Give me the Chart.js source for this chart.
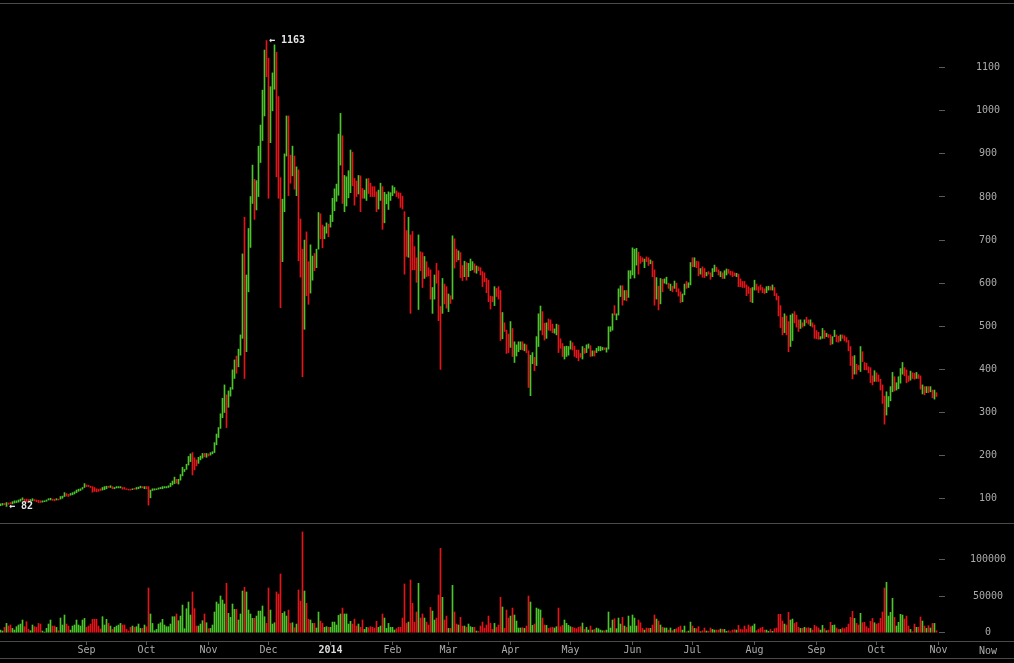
<!DOCTYPE html>
<html><head><meta charset="utf-8">
<script src="https://cdn.jsdelivr.net/npm/chart.js@4.4.1/dist/chart.umd.min.js"></script>
<style>
html,body{margin:0;padding:0;background:#000;width:1014px;height:663px;overflow:hidden;}
.hl{position:absolute;left:0;width:1014px;height:1px;background:#4a4a4a;}
canvas{position:absolute;left:0;}
#now{position:absolute;left:963px;width:50px;top:645px;height:10px;line-height:10px;text-align:center;font:10px "DejaVu Sans Mono",monospace;color:#aaa;}
</style></head>
<body>
<div class="hl" style="top:3px"></div>
<div class="hl" style="top:523px"></div>
<div class="hl" style="top:641px"></div>
<div class="hl" style="top:658px"></div>
<canvas id="pc" width="1014" height="523" style="top:0"></canvas>
<canvas id="vc" width="1014" height="140" style="top:523px"></canvas>
<div id="now">Now</div>
<script>
// Day index 0 = 2013-09-01; first bar = day -43 (2013-07-20)
const firstDay = -43;
const high = [88,89,89,91,90,91,93,95,95,97,99,102,99,99,98,98,100,98,97,96,95,95,95,97,100,101,99,99,100,99,105,106,114,112,110,112,114,116,120,122,123,126,135,
132,131,129,128,126,123,122,123,126,128,129,129,130,128,126,128,128,128,126,126,123,122,122,123,124,126,127,129,128,128,128,128,120,123,123,123,125,126,128,128,128,130,136,141,150,145,145,156,173,168,180,198,204,207,195,190,196,199,205,205,205,204,207,209,230,250,265,297,333,364,341,350,
358,399,422,431,447,480,668,753,619,727,801,874,841,838,918,967,1048,1141,1163,1122,1056,1088,1153,1136,1033,845,795,900,988,988,897,918,895,870,863,749,679,700,719,650,689,663,669,679,764,761,735,731,740,737,
758,797,819,830,946,994,942,850,847,861,909,904,843,837,850,849,820,816,842,843,832,824,824,812,816,832,824,811,806,812,810,826,822,814,810,809,802,766,722,753,712,720,685,659,712,673,671,662,650,636,631,590,619,646,629,546,611,598,592,575,571,710,703,679,675,671,641,651,648,646,
656,650,645,640,638,636,627,624,611,607,570,569,592,588,592,583,532,508,491,482,511,495,464,457,464,464,464,459,457,443,433,439,428,476,529,547,534,507,508,517,515,505,494,505,503,471,460,453,454,453,
466,462,454,445,445,437,453,449,457,459,455,443,443,449,453,453,451,450,450,499,499,529,548,529,587,594,594,583,583,629,629,682,679,681,672,662,659,656,661,659,654,651,631,613,593,611,609,610,614,600,
598,593,605,600,587,580,575,598,604,601,648,659,659,651,650,634,638,
634,625,627,624,634,642,637,631,627,624,629,633,632,628,627,624,623,621,610,604,604,596,592,588,590,607,598,592,596,590,587,592,593,592,596,590,576,570,548,521,
529,524,511,526,529,534,526,515,515,508,515,521,515,515,508,503,490,486,476,495,490,484,481,480,476,491,480,477,480,480,478,474,467,453,430,432,412,409,453,441,
416,414,406,404,385,397,392,387,377,364,338,348,337,360,393,383,369,383,402,416,404,399,385,396,392,391,393,388,385,364,360,360,360,360,352,352,346];
const low = [84,85,86,82,87,88,88,90,91,92,94,97,94,93,95,95,95,95,93,91,91,92,93,94,97,97,96,95,97,97,99,101,105,106,105,108,109,111,114,117,119,122,126,
128,128,126,115,117,116,117,119,120,121,123,126,126,123,123,125,125,125,122,122,121,120,120,121,122,122,123,125,125,123,123,85,102,119,120,121,122,123,123,125,125,126,128,132,135,136,134,143,153,163,168,178,186,155,167,176,182,190,194,197,196,199,201,204,207,225,242,263,288,300,265,312,
338,354,379,391,406,433,472,379,441,580,683,785,748,770,801,880,931,988,1079,797,926,1000,1050,847,797,543,650,766,895,803,832,849,818,803,652,614,383,493,571,551,577,607,629,636,679,703,682,703,716,708,
730,743,768,790,804,874,785,766,779,798,810,826,781,801,807,766,797,797,792,808,801,801,801,766,772,792,725,740,784,771,792,803,809,801,797,776,772,621,662,660,530,631,631,602,539,629,590,611,615,617,563,530,563,600,513,400,530,552,542,534,553,563,635,650,654,613,606,615,607,615,
629,631,625,623,629,619,592,603,578,557,540,557,548,569,563,467,471,488,437,439,451,430,416,431,441,446,445,443,439,358,339,413,397,409,453,491,480,468,472,491,490,485,484,480,439,449,430,424,430,433,
447,445,430,427,420,428,424,437,439,449,430,431,431,439,443,443,445,446,440,447,488,491,526,515,526,569,549,561,559,567,611,619,612,642,621,646,650,636,650,641,645,615,549,563,538,552,580,600,598,588,
583,580,588,580,570,555,557,573,588,590,596,638,638,636,617,621,614,
613,617,621,609,615,627,627,619,615,611,611,619,623,619,615,617,615,592,592,590,590,571,576,557,555,584,584,578,584,578,576,578,584,584,584,571,561,524,497,480,
485,480,441,453,467,508,498,488,495,498,501,508,505,501,498,472,471,470,470,472,472,476,474,457,459,476,464,463,466,472,466,463,443,409,378,389,389,399,395,418,
399,399,392,369,364,372,372,372,352,321,273,294,313,327,348,350,352,355,368,389,385,369,372,375,379,377,379,379,354,343,341,346,346,348,334,331,337];
// 1 = close above open (green), 0 = close below open (red)
const dir = [1,1,0,1,0,0,1,1,1,1,1,1,0,0,0,1,1,0,0,0,0,1,1,1,1,1,0,0,1,0,1,1,1,0,0,1,1,1,1,1,1,1,1,
0,0,0,0,0,0,0,0,1,1,1,0,1,0,1,1,1,1,0,0,0,0,0,1,0,1,1,1,0,1,0,0,1,1,1,1,1,1,1,1,1,1,1,1,1,0,1,1,1,1,1,1,1,0,0,0,1,1,1,0,1,0,1,1,1,1,1,1,1,1,0,1,
1,1,1,0,1,1,1,0,1,1,1,1,0,1,1,1,1,1,0,0,1,1,1,0,0,0,1,1,1,0,0,1,0,1,0,0,0,1,0,0,1,1,0,1,1,0,0,1,1,0,
1,1,1,1,1,1,0,1,1,1,1,0,0,0,1,0,0,1,1,0,0,0,0,0,1,1,0,1,1,1,1,1,1,0,0,0,0,0,0,1,0,0,0,0,1,0,0,1,0,0,0,1,1,0,0,0,1,0,0,1,0,1,0,0,1,0,0,1,0,1,
1,1,0,1,0,0,0,0,0,0,0,0,1,0,0,0,1,0,0,0,1,0,1,1,1,1,0,1,0,0,1,1,0,1,1,1,0,0,1,0,0,0,1,1,0,0,0,1,1,1,
1,0,0,0,0,0,1,0,1,1,0,1,0,1,1,1,1,0,1,1,1,1,0,1,1,1,0,1,0,1,1,1,1,1,0,0,0,1,0,0,1,0,0,1,0,1,0,1,1,0,
1,0,1,0,0,0,1,1,0,1,1,0,1,0,0,1,0,
0,1,0,0,1,1,0,0,1,0,1,1,0,0,0,0,1,0,0,0,0,0,0,0,1,1,0,0,0,0,0,1,1,0,1,0,0,0,0,0,
1,0,0,1,1,0,0,0,1,0,1,0,0,1,0,0,0,0,1,1,0,1,0,0,1,1,0,0,1,0,0,0,0,0,0,1,0,0,1,0,
0,0,0,0,0,1,0,0,0,0,0,1,1,1,1,0,1,1,1,1,0,0,0,1,0,0,1,0,0,1,0,1,0,1,0,1,0];
const volume = [3600,2300,7300,12700,9100,10500,5900,3600,8200,10500,11800,17300,8200,15000,4500,2700,10500,8200,7300,12700,11800,2300,900,5900,11800,17300,9100,9100,7300,2700,20000,10500,24100,11800,9100,3600,9100,10500,17300,10500,9100,17300,19500,
7300,9100,11800,18200,18200,18200,9100,5000,21800,10500,18200,12700,9100,4500,7300,9100,10500,12700,10500,10500,4500,2300,7300,9100,7300,8200,11800,5900,5900,10500,
8200,60900,25500,12700,2700,4500,11800,13600,18200,10500,8200,8200,11800,21800,21800,25500,16400,22700,37700,5500,32700,41800,24100,55500,32700,9100,9100,11800,16400,25500,
13600,5500,5900,10500,28200,41800,39100,50000,44500,39100,67300,26400,20900,39100,31800,31800,17300,25500,56800,61800,55500,30900,25500,19500,19500,22700,29500,29500,36400,21800,
12700,60900,30900,11800,13600,55500,52700,80000,26400,28600,22700,30900,12700,13600,6800,11800,58200,43200,137300,56800,40000,18200,17300,12700,12700,6400,28200,15900,12700,7300,8200,7300,
7300,14500,14500,10500,23600,25500,33600,25500,25500,11800,15500,11800,18600,9100,11800,7300,17300,4500,7300,6800,8200,7300,6400,15500,7300,9100,25500,20000,5900,12700,
7300,7300,3600,5500,7300,7300,20000,66400,12700,14500,71800,40000,14500,28200,67300,20000,25500,20000,14500,10500,34500,29500,17300,20000,51400,115000,48200,17300,22700,5900,
5900,64500,28200,11800,10500,20900,9100,9100,7300,11800,8200,7300,7300,2300,1800,9100,14500,6400,10500,22700,12700,4500,12700,7300,10500,48200,35000,5900,30900,20000,
22700,33600,24100,15900,6400,6400,6800,5900,9100,50000,41800,10000,11800,33600,32300,30900,20000,10500,10000,5900,6800,7300,6400,8200,33600,8200,10000,17300,12700,10000,
8200,7300,6400,5500,7300,8200,13200,4500,7300,3600,9100,3600,4500,6400,5500,3600,2700,2700,3600,28200,6400,17300,19100,5500,20000,11800,20900,9100,7300,22700,
9100,24100,20000,9100,17300,13600,5900,3600,6400,5900,5900,10500,24100,18600,15900,10500,7300,6400,6400,3600,
6400,2700,4500,5500,7300,9100,3600,9100,1400,2300,14500,9100,5900,5500,8200,1400,2700,6400,2300,1800,6400,4500,3600,3600,3600,5000,4500,4500,1800,2700,
1400,3600,4100,3600,10000,4500,4100,9100,4500,10500,8200,9100,11800,2700,4500,6400,7300,3600,3600,1800,4500,1800,5500,6400,25000,25000,15900,11800,10500,27700,
17300,18600,12700,14100,7300,5900,5900,7300,6400,6800,5900,3600,10000,8200,6400,3600,10000,5500,2700,3600,14100,10000,10500,6400,4500,4500,6400,5500,7300,11800,
20900,29100,19500,12700,10500,26400,13600,14100,8200,5900,15500,19500,13600,11800,12700,19500,28200,60900,68600,22700,27700,46800,20900,9100,14100,25000,24100,18600,22700,9100,
4500,1400,11800,7300,7300,21400,15900,9100,5900,9500,6400,12700,12700,2700];
const monthDays = [0,30,61,91,122,153,181,212,242,273,303,334,365,395,426];
const monthLabels = ['Sep','Oct','Nov','Dec','2014','Feb','Mar','Apr','May','Jun','Jul','Aug','Sep','Oct','Nov'];
const priceTicks = [100,200,300,400,500,600,700,800,900,1000,1100];
const volumeTicks = [0,50000,100000];

const GREEN = '#4cc42c', RED = '#e3141a';
const FONT = '"DejaVu Sans Mono", monospace';
const days = high.map((_, i) => firstDay + i);
const colors = dir.map(u => u ? GREEN : RED);
const XMIN = -43.25, XMAX = 426.25, AXISW = 75;

function padFor(labels) {
  const c = document.createElement('canvas').getContext('2d');
  c.font = '10px ' + FONT;
  const w = Math.max(...labels.map(s => c.measureText(s).width));
  return 988 - (1014 - AXISW) - 6 - w / 2;
}
function zeroPad(s) { s.paddingLeft = 0; s.paddingRight = 0; s.paddingTop = 0; s.paddingBottom = 0; }

const yAxisCommon = (ticksArr) => ({
  position: 'right',
  afterBuildTicks: s => { s.ticks = ticksArr.map(v => ({ value: v })); },
  afterFit: s => { s.width = AXISW; zeroPad(s); },
  grid: { drawOnChartArea: false, drawTicks: true, tickLength: 6, color: '#5a5a5a' },
  border: { display: false },
  ticks: { color: '#aaa', font: { family: FONT, size: 10, lineHeight: 1 }, crossAlign: 'center',
           padding: padFor(ticksArr.map(String)), callback: v => String(v) }
});

const markPlugin = {
  id: 'marks',
  afterDatasetsDraw(chart) {
    const xs = chart.scales.x, ys = chart.scales.y, ctx = chart.ctx;
    const hi = Math.max(...high), lo = Math.min(...low);
    const hiI = high.indexOf(hi), loI = low.indexOf(lo);
    ctx.save();
    ctx.font = 'bold 10px ' + FONT;
    ctx.fillStyle = '#e6e6e6';
    ctx.textBaseline = 'middle';
    ctx.textAlign = 'left';
    ctx.fillText('\u2190 ' + hi, xs.getPixelForValue(days[hiI]) + 2.5, ys.getPixelForValue(hi));
    ctx.fillText('\u2190 ' + lo, xs.getPixelForValue(days[loI]) + 2.5, ys.getPixelForValue(lo));
    ctx.restore();
  }
};

new Chart(document.getElementById('pc'), {
  type: 'bar',
  data: { datasets: [{
    data: days.map((d, i) => ({ x: d, y: [low[i], high[i]] })),
    backgroundColor: colors, borderWidth: 0, barThickness: 1, borderSkipped: false
  }]},
  options: {
    responsive: false, animation: false, events: [],
    layout: { padding: { top: 4, bottom: 1, left: 0, right: 0 } },
    plugins: { legend: { display: false }, tooltip: { enabled: false } },
    scales: {
      x: { type: 'linear', min: XMIN, max: XMAX, display: false, offset: false, grid: { offset: false },
           afterFit: zeroPad },
      y: Object.assign({ min: 45.9, max: 1247.8 }, yAxisCommon(priceTicks))
    }
  },
  plugins: [markPlugin]
});

new Chart(document.getElementById('vc'), {
  type: 'bar',
  data: { datasets: [{
    data: days.map((d, i) => ({ x: d, y: volume[i] })),
    backgroundColor: colors, borderWidth: 0, barThickness: 1
  }]},
  options: {
    responsive: false, animation: false, events: [],
    layout: { padding: { top: 1, bottom: 0, left: 0, right: 0 } },
    plugins: { legend: { display: false }, tooltip: { enabled: false } },
    scales: {
      x: {
        type: 'linear', min: XMIN, max: XMAX, position: 'bottom', offset: false,
        afterBuildTicks: s => { s.ticks = monthDays.map(v => ({ value: v })); },
        afterFit: s => { s.height = 22; zeroPad(s); },
        grid: { offset: false, drawOnChartArea: false, drawTicks: true, tickLength: 4, color: '#5a5a5a' },
        border: { display: false },
        ticks: {
          autoSkip: false, maxRotation: 0, padding: 0,
          callback: (v, i) => monthLabels[i],
          color: c => monthLabels[c.index] === '2014' ? '#ddd' : '#aaa',
          font: c => ({ family: FONT, size: 10, lineHeight: 1, weight: monthLabels[c.index] === '2014' ? 'bold' : 'normal' })
        }
      },
      y: Object.assign({ min: -11300, max: 148100 }, yAxisCommon(volumeTicks))
    }
  }
});
</script>
</body></html>
